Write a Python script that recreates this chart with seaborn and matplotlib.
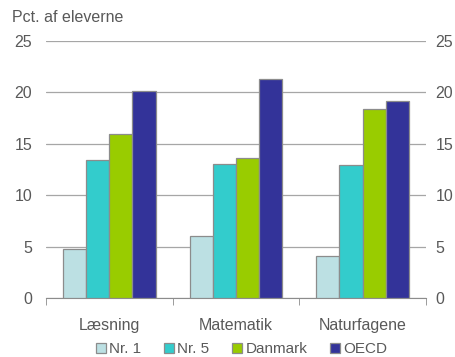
import matplotlib
matplotlib.use("Agg")
import matplotlib.pyplot as plt
import seaborn as sns
import pandas as pd

fag = ["Læsning", "Matematik", "Naturfagene"]
serier = ["Nr. 1", "Nr. 5", "Danmark", "OECD"]
nr1 = [4.8, 6.0, 4.1]
nr5 = [13.4, 13.0, 12.9]
danmark = [16.0, 13.6, 18.4]
oecd = [20.1, 21.3, 19.2]
farver = ["#bce0e3", "#33cccc", "#99cc00", "#333399"]

rows = []
for navn, vals in zip(serier, [nr1, nr5, danmark, oecd]):
    for f, v in zip(fag, vals):
        rows.append({"Fag": f, "Serie": navn, "Pct": v})
df = pd.DataFrame(rows)

sns.set_style("white")
plt.rcParams["font.family"] = ["Liberation Sans", "DejaVu Sans"]
tekst = "#595959"
fs = 11.5

fig = plt.figure(figsize=(4.56, 3.57), dpi=100)
ax = fig.add_axes([0.101, 0.165, 0.833, 0.72])
sns.barplot(data=df, x="Fag", y="Pct", hue="Serie", palette=farver,
            saturation=1, width=0.73, edgecolor="#8c8c8c", linewidth=0.9,
            ax=ax, zorder=3)

ax.set_ylim(0, 25)
ax.set_xlim(-0.5, 2.5)
ax.set_yticks([0, 5, 10, 15, 20, 25])
ax.yaxis.grid(True, color="#a6a6a6", linewidth=0.9, zorder=0)
ax.tick_params(axis="y", length=0, labelsize=fs, labelcolor=tekst,
               left=False, pad=10)

ax2 = ax.twinx()
ax2.set_ylim(0, 25)
ax2.set_yticks([0, 5, 10, 15, 20, 25])
ax2.tick_params(axis="y", length=0, labelsize=fs, labelcolor=tekst, pad=7)
for s in ax2.spines.values():
    s.set_visible(False)

ax.set_xticks([0, 1, 2])
ax.set_xticklabels(fag)
ax.tick_params(axis="x", which="major", length=0, labelsize=fs,
               labelcolor=tekst, pad=14)
ax.set_xticks([-0.5, 0.5, 1.5, 2.5], minor=True)
ax.tick_params(axis="x", which="minor", length=5, color="#8c8c8c",
               direction="out", bottom=True)
for s in ["top", "left", "right"]:
    ax.spines[s].set_visible(False)
ax.spines["bottom"].set_color("#8c8c8c")
ax.set_xlabel("")
ax.set_ylabel("")

ax.legend(loc="center", bbox_to_anchor=(0.53, 0.022),
          bbox_transform=fig.transFigure, ncol=4,
          frameon=False, fontsize=11, handlelength=0.65, handleheight=0.65,
          handletextpad=0.2, columnspacing=1.5, labelcolor=tekst,
          borderaxespad=0, borderpad=0)

fig.text(0.026, 0.95, "Pct. af eleverne", fontsize=fs, color=tekst,
         ha="left", va="center")

fig.savefig("out.png", dpi=100)
